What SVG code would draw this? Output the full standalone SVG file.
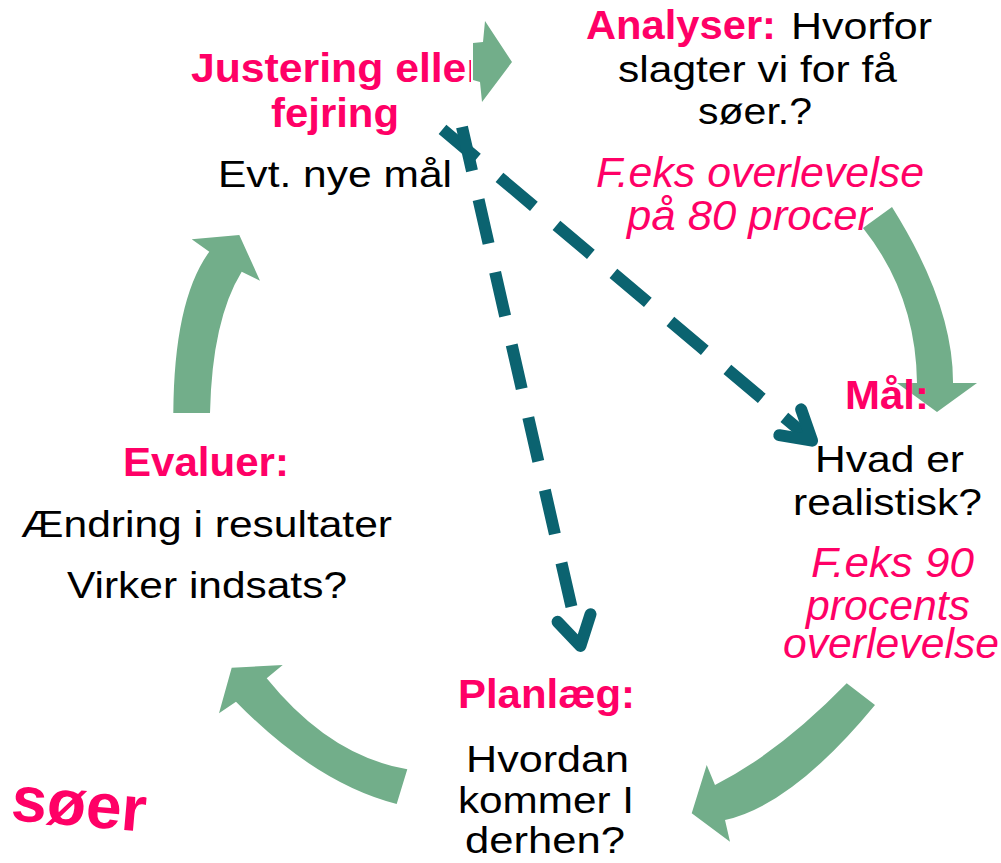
<svg xmlns="http://www.w3.org/2000/svg" width="1001" height="863" viewBox="0 0 1001 863">
<defs>
<style>
.b{font-family:"Liberation Sans",Arial,sans-serif;font-weight:bold;font-size:40px;fill:#FF0066}
.r{font-family:"Liberation Sans",Arial,sans-serif;font-size:37px;fill:#000000}
.i{font-family:"Liberation Sans",Arial,sans-serif;font-style:italic;font-size:42px;fill:#FF0066}
.ga{fill:#72AE8A}
.dl{fill:none;stroke:#0B6370;stroke-width:12;stroke-dasharray:45 29.5;marker-end:url(#chev)}
</style>
<marker id="chev" markerUnits="userSpaceOnUse" markerWidth="80" markerHeight="80" viewBox="-40 -40 80 80" refX="0" refY="0" orient="auto" overflow="visible">
<path d="M-28.6,-16.9 L0,0 L-28.6,16.9" fill="none" stroke="#0B6370" stroke-width="12" stroke-linecap="round" stroke-linejoin="round"/>
</marker>
<clipPath id="clipJ"><rect x="0" y="0" width="471" height="200"/></clipPath>
<clipPath id="clipP"><rect x="0" y="190" width="873" height="60"/></clipPath>
</defs>
<rect width="1001" height="863" fill="#FFFFFF"/>

<g id="node-justering">
<text class="b" x="191" y="82" textLength="292" lengthAdjust="spacingAndGlyphs" clip-path="url(#clipJ)">Justering eller</text>
<text class="b" x="271" y="127" textLength="128" lengthAdjust="spacingAndGlyphs">fejring</text>
<text class="r" x="218" y="187" textLength="234" lengthAdjust="spacingAndGlyphs">Evt. nye mål</text>
</g>

<g id="node-analyser">
<text class="b" x="586" y="39" textLength="190" lengthAdjust="spacingAndGlyphs">Analyser:</text>
<text class="r" x="791" y="39" textLength="141" lengthAdjust="spacingAndGlyphs">Hvorfor</text>
<text class="r" x="618" y="82" textLength="279" lengthAdjust="spacingAndGlyphs">slagter vi for få</text>
<text class="r" x="698" y="124" textLength="114" lengthAdjust="spacingAndGlyphs">søer.?</text>
<text class="i" x="596" y="187" textLength="328" lengthAdjust="spacingAndGlyphs">F.eks overlevelse</text>
<text class="i" x="627" y="230" textLength="267" lengthAdjust="spacingAndGlyphs" clip-path="url(#clipP)">på 80 procent</text>
</g>

<g id="connectors">
<polygon class="ga" points="473,43 483,42 485,21 512,62 482,102 480,82 473,80"/>
<path class="ga" d="M863,228 L892,207 Q953.5,305 953,383 L977,383 L937,412 L897,383 L917,383 Q916,294.5 863,228 Z"/>
<path class="ga" d="M846.7,683.3 L875,705 Q792.5,805 725,820 L730,841.7 L691.7,813.3 L706.7,765 L715,785 Q779.2,752.5 846.7,683.3 Z"/>
<path class="ga" d="M407.3,769.3 Q329.6,756.2 266.7,678.3 L282.7,665 L231.7,667.7 L219,713.3 L236,701.7 Q315.6,783.2 396.7,804 Z"/>
<path class="ga" d="M173.3,413 Q174,300 209.3,251.7 L191.7,239.3 L239.3,235 L260,280.7 L241.7,271.7 Q212,320 210,413 Z"/>
<line class="dl" x1="442.5" y1="129.3" x2="812.1" y2="440.7"/>
<line class="dl" x1="462" y1="127" x2="580.4" y2="645.9"/>
</g>

<g id="node-maal">
<text class="b" x="845" y="409" textLength="84" lengthAdjust="spacingAndGlyphs">Mål:</text>
<text class="r" x="815" y="472" textLength="149" lengthAdjust="spacingAndGlyphs">Hvad er</text>
<text class="r" x="793" y="515" textLength="189" lengthAdjust="spacingAndGlyphs">realistisk?</text>
<text class="i" x="811" y="577" textLength="163" lengthAdjust="spacingAndGlyphs">F.eks 90</text>
<text class="i" x="806" y="620" textLength="164" lengthAdjust="spacingAndGlyphs">procents</text>
<text class="i" x="783" y="658" textLength="216" lengthAdjust="spacingAndGlyphs">overlevelse</text>
</g>

<g id="node-planlaeg">
<text class="b" x="458" y="708" textLength="177" lengthAdjust="spacingAndGlyphs">Planlæg:</text>
<text class="r" x="466" y="772" textLength="163" lengthAdjust="spacingAndGlyphs">Hvordan</text>
<text class="r" x="458" y="813" textLength="176" lengthAdjust="spacingAndGlyphs">kommer I</text>
<text class="r" x="465" y="853" textLength="160" lengthAdjust="spacingAndGlyphs">derhen?</text>
</g>

<g id="node-evaluer">
<text class="b" x="123" y="476" textLength="166" lengthAdjust="spacingAndGlyphs">Evaluer:</text>
<text class="r" x="21" y="537" textLength="371" lengthAdjust="spacingAndGlyphs">Ændring i resultater</text>
<text class="r" x="67" y="598" textLength="280" lengthAdjust="spacingAndGlyphs">Virker indsats?</text>
</g>

<g id="title">
<text class="b" x="10" y="820" style="font-size:64px" transform="rotate(5 10 820)">søer</text>
</g>
</svg>
